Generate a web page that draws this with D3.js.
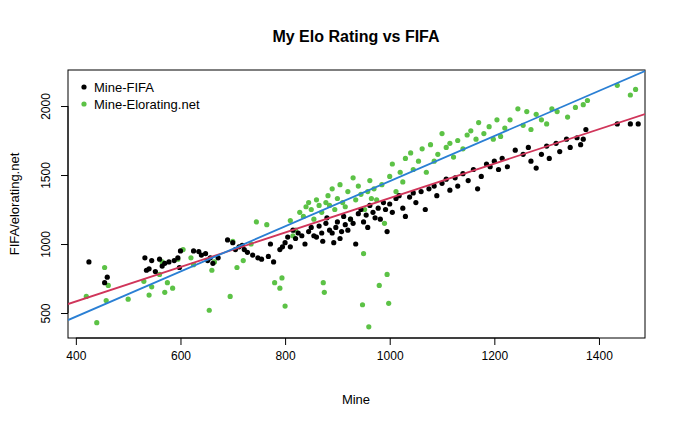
<!DOCTYPE html>
<html><head><meta charset="utf-8">
<script src="https://cdn.jsdelivr.net/npm/d3@7"></script>
<style>body{margin:0;background:#fff}text{font-family:"Liberation Sans",Arial,sans-serif}</style>
</head><body><div id="chart"></div>
<script>
// Mine vs FIFA rating
var blackX = [425,455,460,532,545,560,535,540,552,565,570,578,588,595,600,598,625,635,640,648,652,657,662,672,690,700,705,712,718,722,728,738,748,755,768,772,778,790,795,800,805,810,815,820,825,832,838,845,850,855,860,865,870,872,878,880,885,890,893,897,900,905,908,912,915,920,925,930,935,940,945,950,955,958,962,968,972,978,982,988,992,995,1000,1005,1012,1018,1025,1030,1038,1045,1050,1060,1068,1075,1085,1090,1100,1108,1115,1125,1130,1140,1150,1160,1168,1175,1185,1192,1200,1208,1215,1225,1240,1255,1265,1270,1280,1290,1300,1305,1318,1325,1338,1345,1358,1365,1370,1375,1435,1460,1475];
var blackY = [870,720,760,900,880,890,810,820,800,840,860,870,880,900,950,830,950,945,920,930,880,900,860,900,1030,1010,960,980,990,960,940,920,900,890,910,1000,870,960,980,1010,1050,980,1100,1040,1080,1060,1000,1090,1120,1060,1050,1130,1080,1020,1150,1190,1100,1080,1010,1120,1160,1040,1090,1200,1140,1100,1180,1150,1000,1220,1250,1160,1210,1120,1280,1230,1190,1260,1180,1300,1250,1090,1290,1230,1330,1350,1260,1200,1340,1370,1300,1380,1250,1400,1420,1350,1440,1470,1390,1480,1420,1510,1460,1540,1400,1490,1580,1560,1600,1540,1620,1560,1680,1650,1700,1600,1550,1650,1710,1620,1730,1670,1760,1700,1770,1720,1760,1830,1870,1870,1870];
// Mine vs Elorating.net
var greenX = [420,440,455,458,462,500,530,540,545,560,565,570,575,585,595,605,620,625,655,660,665,695,700,708,720,735,745,765,780,790,794,800,810,815,820,828,835,840,845,850,855,860,865,870,873,875,878,882,885,890,895,900,905,910,915,920,925,930,935,940,945,948,950,952,958,960,962,965,970,975,980,985,990,995,998,1000,1005,1012,1020,1025,1030,1040,1045,1055,1062,1070,1078,1085,1092,1100,1108,1115,1122,1130,1140,1148,1155,1165,1170,1180,1190,1198,1205,1212,1220,1230,1245,1255,1262,1270,1280,1290,1300,1310,1320,1340,1355,1370,1378,1435,1460,1470];
var greenY = [620,430,830,590,700,600,730,630,690,780,870,650,720,680,890,960,900,850,520,810,870,620,1020,830,880,1000,1160,1140,720,680,754,550,1170,1060,1100,1230,1200,1270,1300,1250,1180,1320,1280,1230,720,650,1300,1350,1280,1400,1250,1330,1430,1300,1270,1380,1180,1480,1320,1420,1360,560,930,1250,1380,400,1460,1330,1400,1320,700,1430,1150,780,570,1490,1580,1380,1520,1450,1620,1660,1540,1600,1690,1520,1720,1600,1650,1800,1700,1730,1630,1750,1690,1790,1820,1760,1880,1800,1850,1760,1900,1780,1840,1900,1980,1860,1960,1830,1940,1900,1870,1980,1960,1920,1990,2010,2040,2150,2080,2120];
var xTicks = [400,600,800,1000,1200,1400];
var yTicks = [500,1000,1500,2000];
var eloLine = [[385,449],[1488,2254]];
var fifaLine = [[385,565],[1488,1942]];

var svg = d3.select("#chart").append("svg").attr("width",680).attr("height",425);
var x = d3.scaleLinear().domain([385,1488]).range([68,645]);
var y = d3.scaleLinear().domain([319,2261]).range([338,70]);

svg.append("g").attr("transform","translate(0,338)")
  .call(d3.axisBottom(x).tickValues(xTicks).tickFormat(d3.format("d")).tickSizeOuter(0).tickSize(7).tickPadding(6))
  .call(g=>g.select(".domain").attr("d","M"+x(400)+",0H"+x(1400)))
  .selectAll("text").attr("font-size",12);
svg.append("g").attr("transform","translate(68,0)")
  .call(d3.axisLeft(y).tickValues(yTicks).tickFormat(d3.format("d")).tickSizeOuter(0).tickSize(7))
  .call(g=>g.select(".domain").attr("d","M0,"+y(500)+"V"+y(2000)))
  .selectAll("text").attr("font-size",12).attr("transform","rotate(-90)")
  .attr("text-anchor","middle").attr("x",0).attr("y",-18).attr("dy",0);
svg.selectAll(".domain,.tick line").attr("stroke","#000");

svg.append("rect").attr("x",68).attr("y",70).attr("width",577).attr("height",268)
  .attr("fill","none").attr("stroke","#000");

var clip = svg.append("clipPath").attr("id","c").append("rect")
  .attr("x",68).attr("y",70).attr("width",577).attr("height",268);

svg.selectAll(".g").data(greenX).enter().append("circle")
  .attr("cx",(d)=>x(d)).attr("cy",(d,i)=>y(greenY[i])).attr("r",2.6).attr("fill","#5cc246");
svg.selectAll(".b").data(blackX).enter().append("circle")
  .attr("cx",(d)=>x(d)).attr("cy",(d,i)=>y(blackY[i])).attr("r",2.6).attr("fill","#000");

var line = d3.line().x(d=>x(d[0])).y(d=>y(d[1]));
svg.append("path").attr("d",line(fifaLine)).attr("stroke","#d0355a").attr("stroke-width",1.8)
  .attr("fill","none").attr("clip-path","url(#c)");
svg.append("path").attr("d",line(eloLine)).attr("stroke","#2a7fd4").attr("stroke-width",1.8)
  .attr("fill","none").attr("clip-path","url(#c)");

var leg = [["Mine-FIFA","#000"],["Mine-Elorating.net","#5cc246"]];
leg.forEach(function(l,i){
  svg.append("circle").attr("cx",84).attr("cy",87+i*17).attr("r",2.6).attr("fill",l[1]);
  svg.append("text").attr("x",94).attr("y",92+i*17).attr("font-size",13).text(l[0]);
});

svg.append("text").attr("x",356).attr("y",42).attr("text-anchor","middle")
  .attr("font-size",16).attr("font-weight","bold").text("My Elo Rating vs FIFA");
svg.append("text").attr("x",356).attr("y",404).attr("text-anchor","middle")
  .attr("font-size",13).text("Mine");
svg.append("text").attr("transform","translate(19,204) rotate(-90)").attr("text-anchor","middle")
  .attr("font-size",13).text("FIFA/elorating.net");
</script></body></html>
